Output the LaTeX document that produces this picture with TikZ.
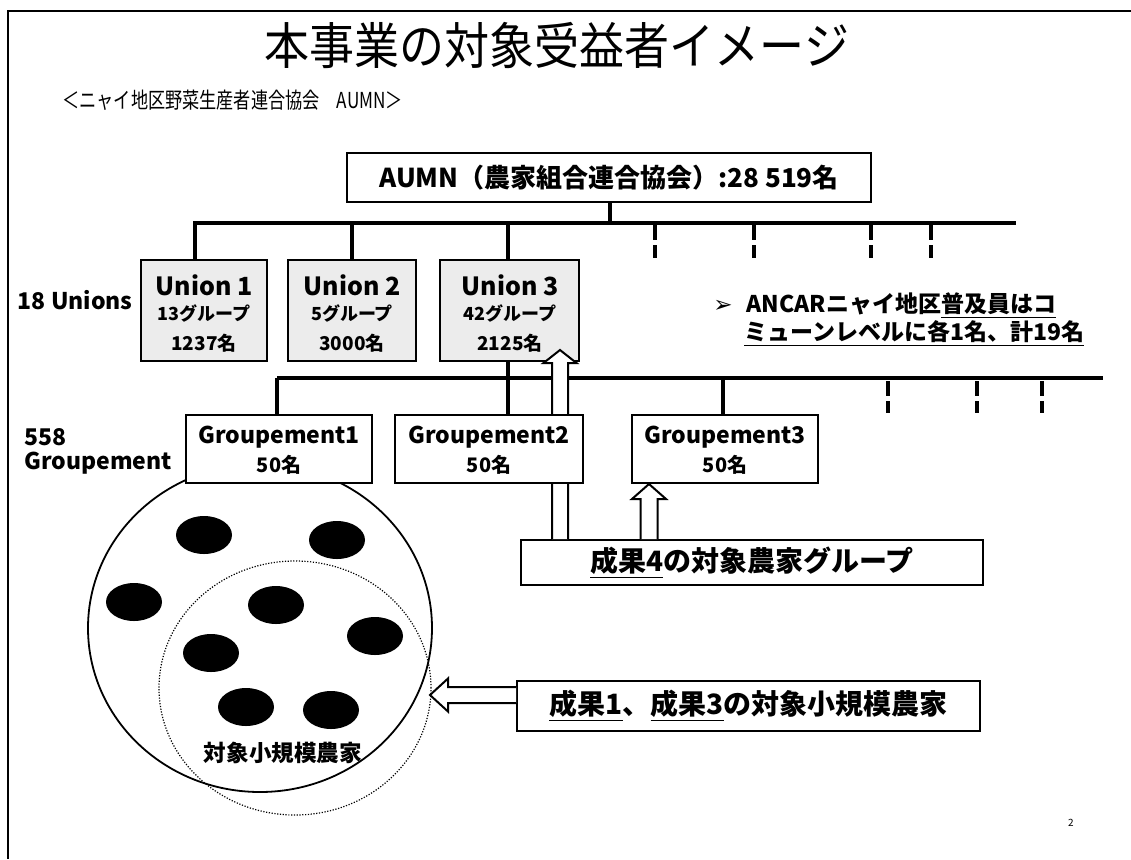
\documentclass[tikz,border=0pt]{standalone}
\usepackage{fontspec}
\setmainfont{Noto Sans CJK JP}
\newfontfamily\dejavu{DejaVu Sans}
\usetikzlibrary{calc}
\begin{document}
\begin{tikzpicture}[x=0.5pt,y=-0.5pt,
  box/.style={draw, line width=1pt, fill=white, inner sep=0pt},
  unionbox/.style={box, fill=gray!15},
  bus/.style={line width=2pt},
  conn/.style={line width=1.7pt},
  stubline/.style={line width=2pt, dash pattern=on 7.5pt off 2.5pt},
  harrow/.style={draw, line width=1pt, fill=white, line join=miter},
  blackdot/.style={fill=black},
  lbl/.style={inner sep=0pt, font=\bfseries},
  fs/.style={font=\bfseries\fontsize{#1}{#1}\selectfont}
]
\useasboundingbox (0,0) rectangle (1131,859);
\fill[white] (0,0) rectangle (1131,859);
% frame
\coordinate (ftl) at (8,11); \coordinate (ftr) at (1131,11); \coordinate (fbl) at (8,859);
\draw[line width=1pt] (ftr) -- (ftl) -- (fbl);

% title
\node[inner sep=0pt, font=\fontsize{25}{26}\selectfont] (title) at (557,45) {\scalebox{0.9}[1]{本事業の対象受益者イメージ}};
\node[inner sep=0pt, anchor=west, font=\fontsize{11}{12}\selectfont] (sub) at (62,100) {\scalebox{0.78}[1]{＜ニャイ地区野菜生産者連合協会　AUMN＞}};

% circles
\draw[line width=0.9pt] (260,628) ellipse [x radius=86pt, y radius=82pt];
\draw[line width=0.6pt, dash pattern=on 0.6pt off 0.8pt] (295,688) ellipse [x radius=68pt, y radius=63.5pt];
\foreach \cx/\cy in {204/535, 337/540, 134/602, 276/605, 375/636, 211/653, 246/707, 331/710}
  \fill[blackdot] (\cx,\cy) ellipse [x radius=14pt, y radius=9.5pt];
\node[lbl, fs=11.3] (taisho) at (283,753) {対象小規模農家};

% AUMN and unions
\node[box, minimum width=262pt, minimum height=24.5pt, fs=13] (aumn) at (609,177.5) {AUMN（農家組合連合協会）:28 519名};
\node[unionbox, minimum width=63pt, minimum height=50.5pt] (u1) at (204,310.5) {};
\node[unionbox, minimum width=64pt, minimum height=50.5pt] (u2) at (352,310.5) {};
\node[unionbox, minimum width=69.5pt, minimum height=50.5pt] (u3) at (509.5,310.5) {};

% bus 1
\coordinate (b1l) at (193,223); \coordinate (b1r) at (1016,223);
\draw[bus] (b1l) -- (b1r);
\coordinate (b1a) at (610,223);
\draw[conn] (aumn.south -| b1a) -- (b1a);
\coordinate (b1u1) at (195,223); \coordinate (b1u2) at (352,223); \coordinate (b1u3) at (508,223);
\draw[conn] (b1u1) -- (b1u1 |- u1.north);
\draw[conn] (b1u2) -- (b1u2 |- u2.north);
\draw[conn] (b1u3) -- (b1u3 |- u3.north);
\foreach \x [count=\i] in {655,754,871,931} {
  \coordinate (ta\i) at (\x,225); \coordinate (tb\i) at (\x,258);
  \draw[stubline] (ta\i) -- (tb\i);
}

% bus 2
\coordinate (b2l) at (277,378); \coordinate (b2r) at (1103,378);
\draw[bus] (b2l) -- (b2r);
\foreach \x [count=\i] in {888,977,1042} {
  \coordinate (la\i) at (\x,381); \coordinate (lb\i) at (\x,413);
  \draw[stubline] (la\i) -- (lb\i);
}

% result boxes
\node[box, minimum width=231pt, minimum height=22.5pt, fs=14] (s4) at (752,562.5) {\underline{成果4}の対象農家グループ};
\node[box, minimum width=231.5pt, minimum height=25pt, fs=14] (s1) at (748.5,706) {\underline{成果1}、\underline{成果3}の対象小規模農家};

% arrow to union 3
\coordinate (a1tip) at (560,350); \coordinate (a1base) at (a1tip |- s4.north);
\draw[harrow] ($(a1base)+(-8,0)$) -- ($(a1tip)+(-8,13)$) -- ($(a1tip)+(-16.5,13)$) -- (a1tip)
  -- ($(a1tip)+(16.5,13)$) -- ($(a1tip)+(8,13)$) -- ($(a1base)+(8,0)$);

% groupements
\node[box, minimum width=93pt, minimum height=34pt] (g1) at (279,449) {};
\node[box, minimum width=94pt, minimum height=34pt] (g2) at (489,449) {};
\node[box, minimum width=93pt, minimum height=34pt] (g3) at (725,449) {};
\draw[conn] (b2l) -- (b2l |- g1.north);
\draw[conn] (u3.south -| b1u3) -- (g2.north -| b1u3);
\coordinate (b2g3) at (723,378);
\draw[conn] (b2g3) -- (b2g3 |- g3.north);

% arrow to groupement 3
\coordinate (a2x) at (649,0);
\coordinate (a2tip) at (g3.south -| a2x); \coordinate (a2base) at (s4.north -| a2x);
\draw[harrow] ($(a2base)+(-8.5,0)$) -- ($(a2tip)+(-8.5,15)$) -- ($(a2tip)+(-17,15)$) -- (a2tip)
  -- ($(a2tip)+(17,15)$) -- ($(a2tip)+(8.5,15)$) -- ($(a2base)+(8.5,0)$);

% arrow to circle
\coordinate (a3tip) at (430,695); \coordinate (a3base) at (s1.west |- a3tip);
\draw[harrow] ($(a3base)+(0,-8)$) -- ($(a3tip)+(18,-8)$) -- ($(a3tip)+(18,-16.5)$) -- (a3tip)
  -- ($(a3tip)+(18,16.5)$) -- ($(a3tip)+(18,8)$) -- ($(a3base)+(0,8)$);

% union labels
\node[lbl, fs=12.5] (u1a) at (204,285) {Union 1};
\node[lbl, fs=9] (u1b) at (204,313) {13グループ};
\node[lbl, fs=9.5] (u1c) at (204,343) {1237名};
\node[lbl, fs=12.5] (u2a) at (352,285) {Union 2};
\node[lbl, fs=9] (u2b) at (352,313) {5グループ};
\node[lbl, fs=9.5] (u2c) at (352,343) {3000名};
\node[lbl, fs=12.5] (u3a) at (510,285) {Union 3};
\node[lbl, fs=9] (u3b) at (510,313) {42グループ};
\node[lbl, fs=9.5] (u3c) at (510,343) {2125名};

% groupement labels
\node[lbl, fs=11.5] (g1a) at (279,437) {Groupement1};
\node[lbl, fs=10] (g1b) at (279,465) {50名};
\node[lbl, fs=11.5] (g2a) at (489,437) {Groupement2};
\node[lbl, fs=10] (g2b) at (489,465) {50名};
\node[lbl, fs=11.5] (g3a) at (725,437) {Groupement3};
\node[lbl, fs=10] (g3b) at (725,465) {50名};

% side labels
\node[lbl, fs=11.5, anchor=east] (unions) at (133,300) {18 Unions};
\node[lbl, fs=11.5, anchor=west] (g558) at (24,437) {558};
\node[lbl, fs=11.5, anchor=west] (ggrp) at (24,463) {Groupement};

% ANCAR note
\node[lbl, fs=11.5, anchor=west] (anc1) at (713,306) {{\dejavu ➢}\hspace{0.6em}ANCARニャイ地区\underline{普及員はコ}};
\node[lbl, fs=11.5, anchor=west] (anc2) at (744,334) {\underline{ミューンレベルに各1名、計19名}};

% page number
\node[inner sep=0pt, font=\fontsize{5}{6}\selectfont] (pg) at (1071,823) {2};
\end{tikzpicture}
\end{document}
